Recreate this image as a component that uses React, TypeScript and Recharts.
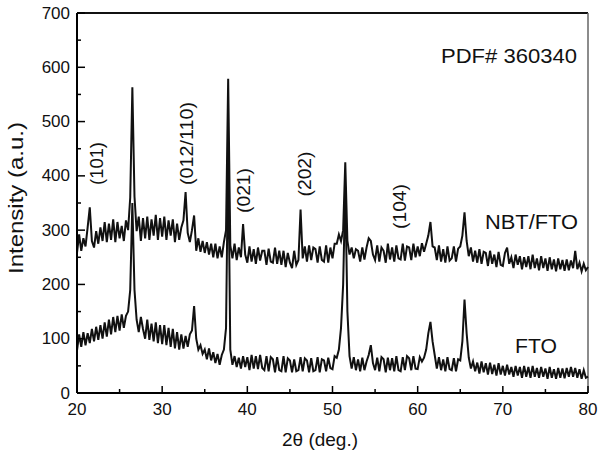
import React from "react";
import { LineChart, Line, XAxis, YAxis, ReferenceLine } from "recharts";

// 2θ sampling: 20.00 .. 80.00 every 0.25°
const START = 20;
const STEP = 0.25;

// NBT/FTO intensity (a.u.), one row per degree (x.00, x.25, x.50, x.75)
const nbtFto: number[] = [
  258, 292, 262, 285, // 20
  270, 305, 342, 280, // 21
  268, 298, 275, 305, // 22
  280, 315, 278, 312, // 23
  282, 320, 278, 315, // 24
  285, 308, 280, 318, // 25
  300, 360, 563, 362, // 26
  298, 325, 280, 322, // 27
  285, 325, 282, 320, // 28
  290, 328, 282, 322, // 29
  288, 325, 282, 318, // 30
  290, 320, 278, 312, // 31
  282, 305, 318, 370, // 32
  295, 278, 300, 327, // 33
  262, 285, 260, 280, // 34
  258, 278, 255, 275, // 35
  250, 275, 248, 270, // 36
  250, 278, 300, 579, // 37
  272, 248, 275, 245, // 38
  268, 250, 311, 255, // 39
  240, 270, 242, 265, // 40
  238, 268, 244, 262, // 41
  262, 236, 266, 242, // 42
  240, 268, 238, 262, // 43
  236, 262, 232, 258, // 44
  240, 230, 262, 236, // 45
  245, 338, 248, 270, // 46
  242, 272, 245, 268, // 47
  265, 240, 270, 245, // 48
  242, 272, 240, 268, // 49
  248, 275, 275, 292, // 50
  280, 300, 425, 280, // 51
  255, 268, 248, 265, // 52
  262, 242, 268, 246, // 53
  268, 285, 280, 255, // 54
  245, 272, 242, 268, // 55
  262, 240, 275, 246, // 56
  268, 242, 272, 248, // 57
  246, 275, 244, 270, // 58
  268, 245, 275, 250, // 59
  270, 252, 276, 260, // 60
  275, 290, 315, 270, // 61
  268, 245, 272, 242, // 62
  265, 240, 270, 244, // 63
  248, 270, 242, 266, // 64
  270, 290, 333, 280, // 65
  252, 268, 242, 262, // 66
  240, 265, 238, 260, // 67
  258, 234, 262, 238, // 68
  255, 232, 260, 236, // 69
  234, 258, 268, 238, // 70
  250, 230, 255, 236, // 71
  252, 228, 250, 232, // 72
  252, 228, 255, 230, // 73
  248, 226, 252, 230, // 74
  248, 225, 250, 228, // 75
  246, 224, 248, 228, // 76
  245, 225, 246, 226, // 77
  244, 230, 262, 228, // 78
  240, 224, 238, 226, // 79
  232, // 80
];

// FTO intensity (a.u.)
const fto: number[] = [
  78, 108, 85, 112, // 20
  88, 110, 92, 118, // 21
  95, 122, 98, 125, // 22
  100, 130, 104, 135, // 23
  108, 140, 112, 142, // 24
  115, 145, 120, 142, // 25
  150, 190, 350, 190, // 26
  135, 112, 140, 118, // 27
  100, 135, 98, 128, // 28
  95, 130, 92, 125, // 29
  90, 125, 88, 120, // 30
  85, 118, 82, 112, // 31
  80, 108, 82, 105, // 32
  85, 108, 115, 160, // 33
  100, 80, 88, 72, // 34
  80, 62, 82, 60, // 35
  75, 55, 72, 52, // 36
  70, 80, 120, 450, // 37
  80, 52, 68, 48, // 38
  65, 45, 68, 48, // 39
  66, 42, 70, 45, // 40
  68, 44, 70, 46, // 41
  42, 68, 40, 66, // 42
  62, 38, 66, 42, // 43
  40, 68, 38, 64, // 44
  60, 38, 62, 40, // 45
  42, 66, 40, 64, // 46
  60, 38, 64, 40, // 47
  42, 66, 38, 62, // 48
  60, 40, 65, 46, // 49
  44, 68, 65, 80, // 50
  120, 200, 380, 150, // 51
  68, 45, 66, 42, // 52
  62, 40, 65, 42, // 53
  58, 70, 88, 55, // 54
  42, 65, 40, 66, // 55
  62, 38, 65, 42, // 56
  64, 40, 68, 42, // 57
  40, 66, 42, 68, // 58
  64, 42, 68, 45, // 59
  44, 66, 58, 65, // 60
  80, 110, 131, 95, // 61
  70, 45, 66, 42, // 62
  62, 40, 66, 44, // 63
  42, 64, 40, 62, // 64
  60, 95, 172, 110, // 65
  65, 45, 58, 40, // 66
  56, 36, 58, 38, // 67
  55, 34, 56, 35, // 68
  52, 32, 55, 34, // 69
  50, 32, 52, 34, // 70
  48, 30, 50, 32, // 71
  48, 28, 50, 30, // 72
  48, 28, 50, 30, // 73
  46, 28, 48, 30, // 74
  45, 26, 48, 28, // 75
  44, 26, 46, 28, // 76
  45, 27, 46, 30, // 77
  48, 30, 46, 28, // 78
  44, 26, 42, 28, // 79
  30, // 80
];

const xTicks = [20, 25, 30, 35, 40, 45, 50, 55, 60, 65, 70, 75, 80];
const yTicks = [0, 50, 100, 150, 200, 250, 300, 350, 400, 450, 500, 550, 600, 650, 700];

const peakLabels = [
  { text: "(101)", x: 97, y: 163.5, len: 43 },
  { text: "(012/110)", x: 187, y: 143.5, len: 83 },
  { text: "(021)", x: 244, y: 190.5, len: 45 },
  { text: "(202)", x: 304.5, y: 174, len: 45 },
  { text: "(104)", x: 400, y: 206.5, len: 45 },
];

const data = nbtFto.map((v, i) => ({ x: START + i * STEP, nbt: v, fto: fto[i] }));

const FONT = "'Liberation Sans', Arial, Helvetica, sans-serif";

const YTick = (props: any) => {
  const { x, y, payload } = props;
  const v = payload.value as number;
  const major = v % 100 === 0;
  return (
    <g>
      <line x1={x} x2={x + (major ? 8 : 4)} y1={y} y2={y} stroke="#000" strokeWidth={1.5} />
      {major && (
        <text x={x - 7} y={y} textAnchor="end" dominantBaseline="central" fontSize={17} fontFamily={FONT} fill="#111">
          {v}
        </text>
      )}
    </g>
  );
};

const XTick = (props: any) => {
  const { x, y, payload } = props;
  const v = payload.value as number;
  const major = v % 10 === 0;
  return (
    <g>
      <line x1={x} x2={x} y1={y} y2={y - (major ? 7 : 4)} stroke="#000" strokeWidth={1.5} />
      {major && (
        <text x={x} y={y + 22} textAnchor="middle" fontSize={17} fontFamily={FONT} fill="#111">
          {v}
        </text>
      )}
    </g>
  );
};

export default function App() {
  return (
    <div style={{ position: "absolute", left: 0, top: 0, width: 600, height: 456, background: "#fff" }}>
      <LineChart width={600} height={456} data={data} margin={{ top: 13, right: 12, bottom: 33, left: 0 }}>
        <XAxis
          dataKey="x"
          type="number"
          domain={[20, 80]}
          ticks={xTicks}
          interval={0}
          height={30}
          tickSize={0}
          tickMargin={0}
          tickLine={false}
          tick={<XTick />}
          axisLine={{ stroke: "#000", strokeWidth: 2 }}
        />
        <YAxis
          type="number"
          domain={[0, 700]}
          ticks={yTicks}
          interval={0}
          width={77}
          tickSize={0}
          tickMargin={0}
          tickLine={false}
          tick={<YTick />}
          axisLine={{ stroke: "#000", strokeWidth: 2 }}
        />
        <ReferenceLine y={700} stroke="#111" strokeWidth={2} />
        <ReferenceLine x={80} stroke="#666" strokeWidth={1.5} />
        <Line dataKey="fto" stroke="#111" strokeWidth={2} dot={false} isAnimationActive={false} />
        <Line dataKey="nbt" stroke="#111" strokeWidth={2} dot={false} isAnimationActive={false} />
      </LineChart>
      <svg
        width={600}
        height={456}
        style={{ position: "absolute", left: 0, top: 0, pointerEvents: "none" }}
        fontFamily={FONT}
        fill="#111"
      >
        <text x={441} y={63} fontSize={20} textLength={136} lengthAdjust="spacingAndGlyphs">
          PDF# 360340
        </text>
        <text x={485} y={229} fontSize={20} textLength={93} lengthAdjust="spacingAndGlyphs">
          NBT/FTO
        </text>
        <text x={515} y={353} fontSize={20} textLength={42} lengthAdjust="spacingAndGlyphs">
          FTO
        </text>
        {peakLabels.map((p) => (
          <text
            key={p.text}
            transform={`translate(${p.x},${p.y}) rotate(-90)`}
            textAnchor="middle"
            dominantBaseline="central"
            fontSize={18}
            textLength={p.len}
            lengthAdjust="spacingAndGlyphs"
          >
            {p.text}
          </text>
        ))}
        <text x={320} y={446} textAnchor="middle" fontSize={19}>
          2θ (deg.)
        </text>
        <text
          transform="translate(16,198) rotate(-90)"
          textAnchor="middle"
          dominantBaseline="central"
          fontSize={20}
          textLength={152}
          lengthAdjust="spacingAndGlyphs"
        >
          Intensity (a.u.)
        </text>
      </svg>
    </div>
  );
}
